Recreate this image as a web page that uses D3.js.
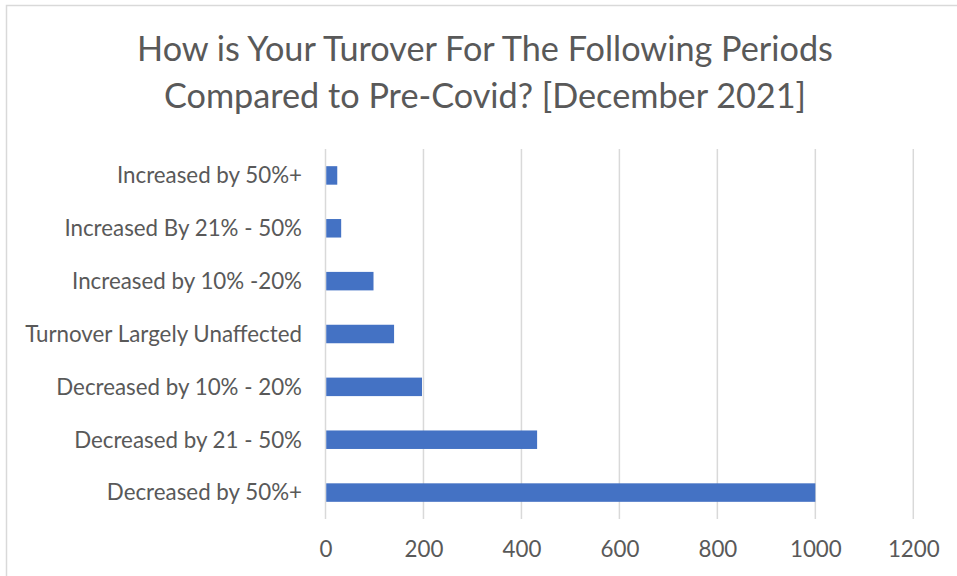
<!DOCTYPE html>
<html>
<head>
<meta charset="utf-8">
<script src="https://cdn.jsdelivr.net/npm/d3@7/dist/d3.min.js"></script>
<style>
  html, body { margin: 0; padding: 0; background: #fff; }
  svg { display: block; }
  text { font-family: Lato, "Open Sans", sans-serif; fill: #595959; }
</style>
</head>
<body>
<svg id="chart" width="957" height="576"></svg>
<script>
const categories = [
  "Increased by 50%+",
  "Increased By 21% - 50%",
  "Increased by 10% -20%",
  "Turnover Largely Unaffected",
  "Decreased by 10% - 20%",
  "Decreased by 21 - 50%",
  "Decreased by 50%+"
];
const values = [24, 32, 98, 140, 197, 432, 1000];
const xTicks = [0, 200, 400, 600, 800, 1000, 1200];
const titleLines = [
  "How is Your Turover For The Following Periods",
  "Compared to Pre-Covid? [December 2021]"
];

const svg = d3.select("#chart");
const W = 957, H = 576;

// outer chart border
svg.append("rect")
  .attr("x", 6.5).attr("y", 5.5)
  .attr("width", W + 10).attr("height", H + 10)
  .attr("fill", "#fff").attr("stroke", "#d9d9d9").attr("stroke-width", 1.5);

const plot = { left: 325.5, right: 913.3, top: 149, bottom: 519 };

const x = d3.scaleLinear().domain([0, 1200]).range([plot.left, plot.right]);
const y = d3.scaleBand().domain(categories).range([plot.top, plot.bottom])
  .paddingInner(0.65).paddingOuter(0.325);

// fit helper
function fitSize(text, target, base) {
  const t = svg.append("text").attr("font-size", base).text(text);
  const w = t.node().getComputedTextLength();
  t.remove();
  return base * target / w;
}

// title
const titleSize = fitSize(titleLines[0], 696, 30);
svg.append("g").selectAll("text").data(titleLines).join("text")
  .attr("x", 485)
  .attr("y", (d, i) => 61 + i * 47)
  .attr("text-anchor", "middle")
  .attr("font-size", titleSize)
  .text(d => d);

// gridlines
svg.append("g").selectAll("line").data(xTicks).join("line")
  .attr("x1", d => x(d)).attr("x2", d => x(d))
  .attr("y1", plot.top).attr("y2", plot.bottom)
  .attr("stroke", "#d9d9d9").attr("stroke-width", 1.5);

// bars
svg.append("g").selectAll("rect").data(values).join("rect")
  .attr("x", x(0) + 0.75)
  .attr("y", (d, i) => y(categories[i]))
  .attr("width", d => x(d) - x(0) - 0.75)
  .attr("height", y.bandwidth())
  .attr("fill", "#4472c4");

// category labels
const labelSize = fitSize("Turnover Largely Unaffected", 277, 20);
svg.append("g").selectAll("text").data(categories).join("text")
  .attr("x", 302)
  .attr("y", d => y(d) + y.bandwidth() / 2)
  .attr("dy", "0.35em")
  .attr("text-anchor", "end")
  .attr("font-size", labelSize)
  .text(d => d);

// x axis tick labels
const xAxis = d3.axisBottom(x).tickValues(xTicks).tickFormat(d3.format("d"))
  .tickSize(0).tickPadding(22);
const ax = svg.append("g").attr("transform", `translate(0,${plot.bottom})`).call(xAxis);
ax.select(".domain").remove();
ax.selectAll("text")
  .attr("font-size", labelSize)
  .attr("font-family", "Lato, 'Open Sans', sans-serif")
  .attr("fill", "#595959");
</script>
</body>
</html>
